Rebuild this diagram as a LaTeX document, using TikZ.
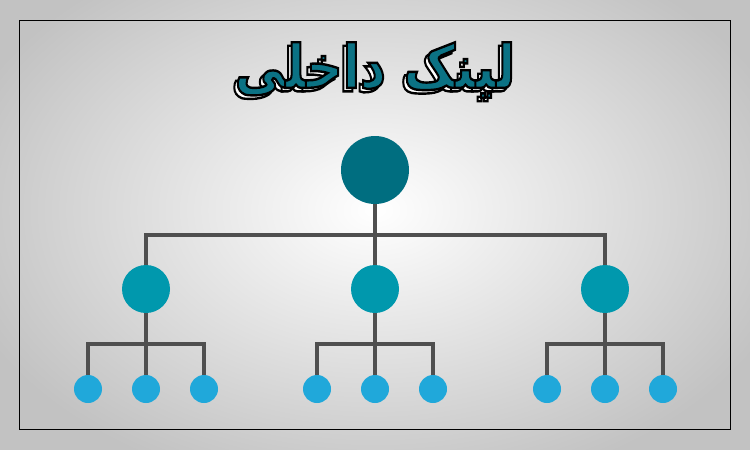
\documentclass[tikz,border=0pt]{standalone}
\usepackage{fontspec}
\TeXXeTstate=1
\newfontfamily\arabicfont[Script=Arabic]{DejaVu Sans}
\definecolor{rootc}{HTML}{006E80}
\definecolor{midc}{HTML}{0098AD}
\definecolor{leafc}{HTML}{20A8DA}
\definecolor{linec}{HTML}{4F4F4F}
\definecolor{titlec}{HTML}{0B7284}
\newcommand{\ttext}{\scalebox{1.01}[1.2]{\arabicfont\bfseries\fontsize{50}{60}\selectfont\beginR لینک داخلی\endR}}
\newcommand{\strokedtext}[1]{\special{pdf:literal direct 2 Tr 2 w 0 0 0 RG}#1\special{pdf:literal direct 0 Tr}}
\tikzset{
  rootnode/.style={circle, fill=rootc, minimum size=68pt, inner sep=0pt},
  midnode/.style={circle, fill=midc, minimum size=48pt, inner sep=0pt},
  leafnode/.style={circle, fill=leafc, minimum size=28pt, inner sep=0pt},
  conn/.style={draw=linec, line width=4pt},
  ttl/.style={inner sep=0pt, anchor=center}
}
\begin{document}
\begin{tikzpicture}[x=1pt,y=-1pt]
\useasboundingbox (0,0) rectangle (750,450);
\shade[inner color=white, outer color=black!24] (-60,-80) rectangle (810,500);
\draw[black, line width=0.8pt] (19,20) rectangle (730,429);
% title: shadow, then face
\node[ttl, text=white, xshift=-3.5pt, yshift=-3.5pt] (tsh) at (375,70) {\strokedtext{\ttext}};
\node[ttl, text=titlec] (title) at (375,70) {\strokedtext{\ttext}};
% nodes
\node[rootnode] (r) at (375,170) {};
\node[midnode] (m1) at (146,289) {};
\node[midnode] (m2) at (375,289) {};
\node[midnode] (m3) at (605,289) {};
\coordinate (j0) at (375,235);
\foreach \i/\x in {1/146,2/375,3/605}{
  \node[leafnode] (l\i a) at (\x-58,389) {};
  \node[leafnode] (l\i b) at (\x,389) {};
  \node[leafnode] (l\i c) at (\x+58,389) {};
  \coordinate (j\i) at (\x,344);
}
% connectors
\draw[conn] (r.south) -- (m2.north);
\draw[conn] (m1.north) |- (j0) -| (m3.north);
\foreach \i in {1,2,3}{
  \draw[conn] (m\i.south) -- (l\i b.north);
  \draw[conn] (l\i a.north) |- (j\i) -| (l\i c.north);
}
\end{tikzpicture}
\end{document}
